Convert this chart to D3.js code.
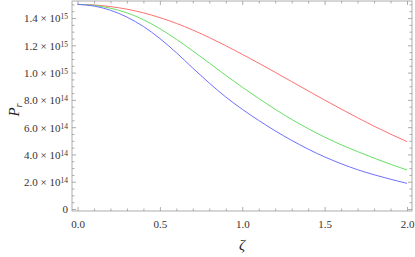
<!DOCTYPE html>
<html>
<head>
<meta charset="utf-8">
<script src="https://cdn.jsdelivr.net/npm/d3@7"></script>
<style>
  body { margin: 0; background: #fff; }
  svg { display: block; }
</style>
</head>
<body>
<div id="container"></div>
<script>
// zeta values along x, step 0.1
const zeta = d3.range(0, 21).map(i => i / 10);
// P_r in units of 1e14
const redVals = [15.0, 14.96, 14.84, 14.65, 14.38, 14.03, 13.61, 13.12, 12.57, 11.97, 11.34,
  10.69, 10.02, 9.34, 8.66, 7.99, 7.33, 6.69, 6.07, 5.49, 4.94];
const greenVals = [15.0, 14.93, 14.72, 14.38, 13.88, 13.22, 12.44, 11.59, 10.70, 9.80, 8.93,
  8.10, 7.31, 6.57, 5.89, 5.27, 4.71, 4.21, 3.73, 3.28, 2.86];
const blueVals = [15.0, 14.88, 14.57, 14.07, 13.38, 12.50, 11.46, 10.33, 9.23, 8.21, 7.31,
  6.49, 5.73, 5.03, 4.39, 3.82, 3.32, 2.88, 2.51, 2.18, 1.88];
const xTicks = [0, 0.5, 1.0, 1.5, 2.0];
const yTicks = [0, 2, 4, 6, 8, 10, 12, 14]; // x 1e14

const w = 415;
const h = 257;
const frame = { left: 72, right: 412, top: 1, bottom: 211 };
const serif = "Liberation Serif, DejaVu Serif, serif";

const svg = d3.select("#container").append("svg")
  .attr("width", w)
  .attr("height", h);

const xScale = d3.scaleLinear().domain([0, 2]).range([77.5, 407]);
const yScale = d3.scaleLinear().domain([0, 15]).range([209, 4.4]);

const axisColor = "#999";

// minor ticks
const xMinor = zeta.filter(d => !xTicks.includes(d));
const yMinor = d3.range(0, 31).map(i => i / 2).filter(d => !yTicks.includes(d));

function styleAxis(g) {
  g.attr("font-family", serif).attr("font-size", 11);
  g.select(".domain").remove();
  g.selectAll(".tick line").attr("stroke", axisColor).attr("stroke-width", 0.8);
  g.selectAll(".tick text").attr("fill", "#333");
}

// bottom axis (ticks point inward)
svg.append("g")
  .attr("transform", `translate(0, ${frame.bottom})`)
  .call(d3.axisBottom(xScale).tickValues(xTicks).tickSizeInner(-4).tickSizeOuter(0).tickPadding(9)
    .tickFormat(d3.format(".1f")))
  .call(styleAxis);
svg.append("g")
  .attr("transform", `translate(0, ${frame.bottom})`)
  .call(d3.axisBottom(xScale).tickValues(xMinor).tickSizeInner(-2.5).tickSizeOuter(0).tickFormat(""))
  .call(styleAxis);

// top axis
svg.append("g")
  .attr("transform", `translate(0, ${frame.top})`)
  .call(d3.axisTop(xScale).tickValues(xTicks).tickSizeInner(-4).tickSizeOuter(0).tickFormat(""))
  .call(styleAxis);
svg.append("g")
  .attr("transform", `translate(0, ${frame.top})`)
  .call(d3.axisTop(xScale).tickValues(xMinor).tickSizeInner(-2.5).tickSizeOuter(0).tickFormat(""))
  .call(styleAxis);

// left axis
const yLeft = svg.append("g")
  .attr("transform", `translate(${frame.left}, 0)`)
  .call(d3.axisLeft(yScale).tickValues(yTicks).tickSizeInner(-4).tickSizeOuter(0).tickFormat(""))
  .call(styleAxis);
svg.append("g")
  .attr("transform", `translate(${frame.left}, 0)`)
  .call(d3.axisLeft(yScale).tickValues(yMinor).tickSizeInner(-2.5).tickSizeOuter(0).tickFormat(""))
  .call(styleAxis);

// y labels like 1.4 x 10^15
yLeft.selectAll(".tick text").each(function (d) {
  const t = d3.select(this).attr("x", -4).attr("dy", "0.35em");
  if (d === 0) { t.text("0"); return; }
  const exp = d >= 10 ? 15 : 14;
  const mant = d >= 10 ? d / 10 : d;
  t.append("tspan").text(mant.toFixed(1) + " \u00d7 10");
  t.append("tspan").attr("dy", "-0.4em").attr("font-size", 7.5).text(exp);
});

// right axis
svg.append("g")
  .attr("transform", `translate(${frame.right}, 0)`)
  .call(d3.axisRight(yScale).tickValues(yTicks).tickSizeInner(-4).tickSizeOuter(0).tickFormat(""))
  .call(styleAxis);
svg.append("g")
  .attr("transform", `translate(${frame.right}, 0)`)
  .call(d3.axisRight(yScale).tickValues(yMinor).tickSizeInner(-2.5).tickSizeOuter(0).tickFormat(""))
  .call(styleAxis);

// frame
svg.append("rect")
  .attr("x", frame.left)
  .attr("y", frame.top)
  .attr("width", frame.right - frame.left)
  .attr("height", frame.bottom - frame.top)
  .attr("fill", "none")
  .attr("stroke", axisColor)
  .attr("stroke-width", 0.8);

// curves
const line = d3.line()
  .x((d, i) => xScale(zeta[i]))
  .y(d => yScale(d))
  .curve(d3.curveMonotoneX);

[[redVals, "#ff7070"], [greenVals, "#66e066"], [blueVals, "#7070ff"]].forEach(([vals, col]) => {
  svg.append("path")
    .datum(vals)
    .attr("fill", "none")
    .attr("stroke", col)
    .attr("stroke-width", 1)
    .attr("d", line);
});

// axis titles
svg.append("text")
  .attr("transform", "translate(19, 110) rotate(-90)")
  .attr("text-anchor", "middle")
  .attr("font-family", serif)
  .attr("font-size", 15)
  .attr("font-style", "italic")
  .attr("fill", "#222")
  .call(t => {
    t.append("tspan").text("P");
    t.append("tspan").attr("dy", "0.3em").attr("font-size", 10).text("r");
  });

svg.append("text")
  .attr("x", 242)
  .attr("y", 250)
  .attr("text-anchor", "middle")
  .attr("font-family", serif)
  .attr("font-size", 15)
  .attr("font-style", "italic")
  .attr("fill", "#222")
  .text("ζ");
</script>
</body>
</html>
